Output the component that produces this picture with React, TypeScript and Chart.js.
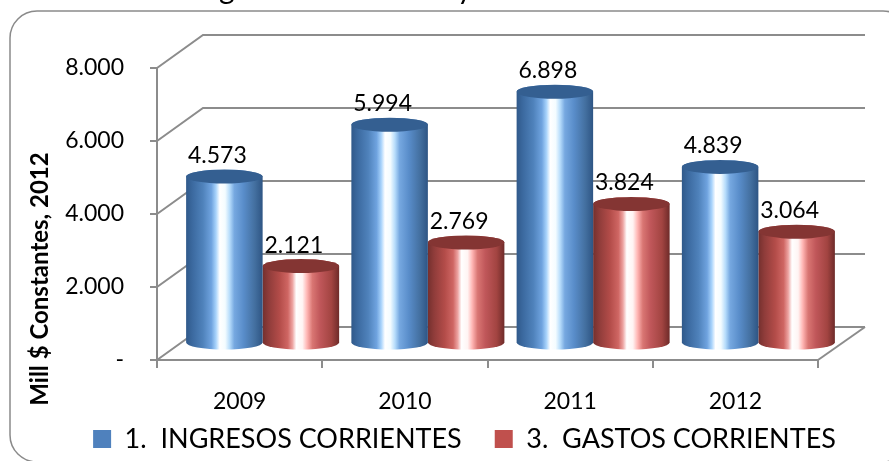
import React, { useEffect, useRef } from "react";
import { Chart, registerables } from "chart.js";

Chart.register(...registerables);

const categories = ["2009", "2010", "2011", "2012"];
const ingresos = [4573, 5994, 6898, 4839];
const gastos = [2121, 2769, 3824, 3064];
const seriesNames = ["1.  INGRESOS CORRIENTES", "3.  GASTOS CORRIENTES"];
const axisTitle = "Mill $ Constantes, 2012";
const clippedTitle = "Ingresos Corrientes y Gastos Corrientes";

const FONT = "Lato, 'Open Sans', sans-serif";
const GRID = "#8c8c8c";
const DEPTH_X = 46;
const DEPTH_Y = -33;
const BAR_DX = 23;
const BAR_DY = -16.5;
const RY = 7;

const fmt = (v: number) => (v === 0 ? "-" : Math.round(v).toLocaleString("de-DE"));

const bodyStops: [number, string][][] = [
  [[0, "#30598a"], [0.08, "#3b699f"], [0.22, "#4f82bb"], [0.33, "#6fa3df"], [0.39, "#a8d3fb"], [0.44, "#ffffff"], [0.51, "#f4fcff"], [0.57, "#b6dcfb"], [0.63, "#76a8e0"], [0.75, "#598dca"], [0.9, "#436f9f"], [1, "#2e5584"]],
  [[0, "#74302e"], [0.08, "#8f3c3a"], [0.22, "#b34c49"], [0.33, "#cf6663"], [0.39, "#eda3a1"], [0.44, "#ffffff"], [0.52, "#fff4f3"], [0.58, "#ffb6b4"], [0.65, "#d97673"], [0.75, "#c0575a"], [0.9, "#a24441"], [1, "#6e2b29"]],
];
const capColors = ["#345f91", "#843533"];

const threeD = {
  id: "threeD",
  afterLayout(chart: any) {
    const l = chart.legend;
    l.left += 55.5;
    l.right += 55.5;
    const h = l.bottom - l.top;
    l.top = 392.5;
    l.bottom = 392.5 + h;
    chart.scales.x.bottom = chart.scales.x.top + 62;
  },
  beforeDraw(chart: any) {
    const { ctx, scales } = chart;
    const y = scales.y;
    const x = scales.x;
    ctx.save();
    ctx.fillStyle = "#ffffff";
    ctx.fillRect(0, 0, chart.width, chart.height);

    ctx.strokeStyle = "#8a8a8a";
    ctx.lineWidth = 1.5;
    ctx.beginPath();
    ctx.roundRect(10, 11, 900, 451, 27);
    ctx.stroke();

    ctx.fillStyle = "#000";
    ctx.font = `30px ${FONT}`;
    ctx.textAlign = "center";
    ctx.textBaseline = "alphabetic";
    ctx.fillText(clippedTitle, 455, -1);

    ctx.save();
    ctx.translate(40, 279);
    ctx.rotate(-Math.PI / 2);
    ctx.font = `bold 24px ${FONT}`;
    ctx.textBaseline = "middle";
    ctx.fillText(axisTitle, 0, 0);
    ctx.restore();

    ctx.strokeStyle = GRID;
    ctx.lineWidth = 2;
    const left = x.left;
    const right = x.right;
    for (const t of y.ticks) {
      const p = y.getPixelForValue(t.value);
      ctx.beginPath();
      ctx.moveTo(left, p);
      ctx.lineTo(left + DEPTH_X, p + DEPTH_Y);
      ctx.lineTo(right + DEPTH_X + 1, p + DEPTH_Y);
      ctx.stroke();
    }
    const base = y.getPixelForValue(0);
    ctx.beginPath();
    ctx.moveTo(right, base);
    ctx.lineTo(right + DEPTH_X + 1, base + DEPTH_Y);
    ctx.stroke();
    ctx.restore();
  },
  beforeDatasetDraw(chart: any, args: any) {
    const { ctx } = chart;
    const i = args.index;
    ctx.save();
    for (const el of args.meta.data) {
      const w = el.width;
      const cx = el.x + BAR_DX;
      const top = el.y + BAR_DY;
      const bottom = el.base + BAR_DY;
      const l = cx - w / 2;
      const g = ctx.createLinearGradient(l, 0, l + w, 0);
      bodyStops[i].forEach(([o, c]) => g.addColorStop(o, c));
      ctx.fillStyle = g;
      ctx.beginPath();
      ctx.moveTo(l, top);
      ctx.lineTo(l, bottom);
      ctx.ellipse(cx, bottom, w / 2, RY, 0, Math.PI, 0, true);
      ctx.lineTo(l + w, top);
      ctx.ellipse(cx, top, w / 2, RY, 0, 0, Math.PI, true);
      ctx.closePath();
      ctx.fill();
      ctx.fillStyle = capColors[i];
      ctx.beginPath();
      ctx.ellipse(cx, top, w / 2, RY, 0, 0, Math.PI * 2);
      ctx.fill();
    }
    ctx.restore();
    return false;
  },
  afterDatasetsDraw(chart: any) {
    const { ctx } = chart;
    ctx.save();
    ctx.fillStyle = "#000";
    ctx.font = `23px ${FONT}`;
    ctx.textAlign = "center";
    ctx.textBaseline = "middle";
    chart.data.datasets.forEach((ds: any, i: number) => {
      chart.getDatasetMeta(i).data.forEach((el: any, j: number) => {
        ctx.fillText(fmt(ds.data[j]), el.x + BAR_DX - 7, el.y + BAR_DY - 21);
      });
    });
    ctx.restore();
  },
};

export default function App() {
  const ref = useRef<HTMLCanvasElement>(null);
  useEffect(() => {
    const chart = new Chart(ref.current!, {
      type: "bar",
      plugins: [threeD],
      data: {
        labels: categories,
        datasets: [
          { label: seriesNames[0], data: ingresos, backgroundColor: "#4f81bd", categoryPercentage: 0.926, barPercentage: 1 },
          { label: seriesNames[1], data: gastos, backgroundColor: "#c0504d", categoryPercentage: 0.926, barPercentage: 1 },
        ],
      },
      options: {
        responsive: false,
        animation: false,
        events: [],
        layout: { padding: { top: 68, right: 71, bottom: 0, left: 0 } },
        plugins: {
          legend: {
            position: "bottom",
            labels: {
              boxWidth: 18,
              boxHeight: 18,
              padding: 33,
              color: "#000",
              font: { family: FONT, size: 27 },
            },
          },
          tooltip: { enabled: false },
        },
        scales: {
          x: {
            afterFit: (s: any) => { s.height = 31; },
            grid: { drawOnChartArea: false, color: GRID, tickLength: 8, lineWidth: 2 },
            border: { color: GRID, width: 2 },
            ticks: { color: "#000", padding: 20, maxRotation: 0, font: { family: FONT, size: 23 } },
          },
          y: {
            min: 0,
            max: 8000,
            afterFit: (s: any) => { s.width = 157; },
            grid: { drawOnChartArea: false, color: GRID, tickLength: 7, lineWidth: 2 },
            border: { color: GRID, width: 2 },
            ticks: {
              stepSize: 2000,
              color: "#000",
              padding: 26,
              font: { family: FONT, size: 23 },
              callback: (v: any) => fmt(Number(v)),
            },
          },
        },
      },
    } as any);
    return () => chart.destroy();
  }, []);
  return (
    <div style={{ position: "absolute", left: 0, top: 0 }}>
      <canvas ref={ref} width={889} height={461} style={{ display: "block" }} />
    </div>
  );
}
